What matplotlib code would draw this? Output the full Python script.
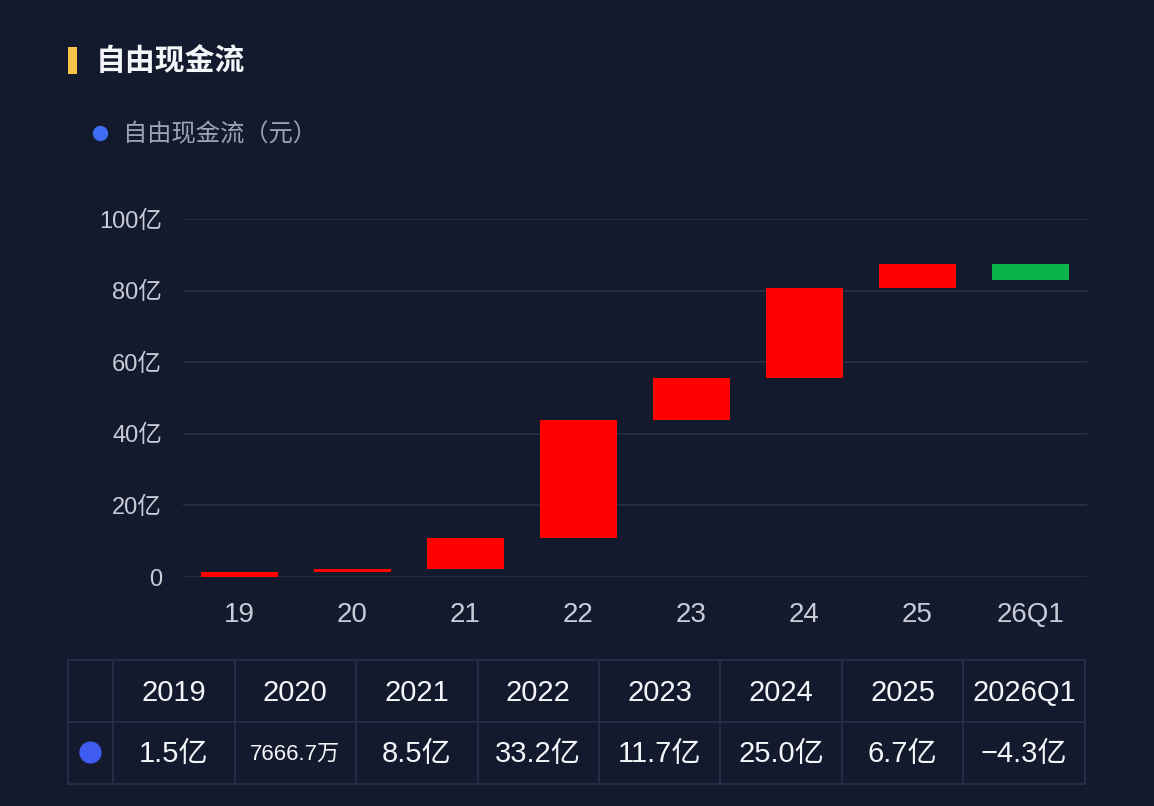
import numpy as np
import matplotlib
matplotlib.use("Agg")
import matplotlib.pyplot as plt
from matplotlib.patches import Rectangle

plt.rcParams['font.family'] = ['Liberation Sans', 'Noto Sans CJK SC', 'DejaVu Sans']
CJK = ['Noto Sans CJK SC', 'DejaVu Sans']

# data (亿元)
categories = ["19", "20", "21", "22", "23", "24", "25", "26Q1"]
years = ["2019", "2020", "2021", "2022", "2023", "2024", "2025", "2026Q1"]
fcf = [1.5, 0.76667, 8.5, 33.2, 11.7, 25.0, 6.7, -4.3]
fcf_labels = ["1.5亿", "7666.7万", "8.5亿", "33.2亿", "11.7亿", "25.0亿", "6.7亿", "−4.3亿"]
yticks = [0, 20, 40, 60, 80, 100]
ytick_labels = ["0", "20亿", "40亿", "60亿", "80亿", "100亿"]

BG = "#131a2e"
GRID = "#232b45"
TXT = "#c9ccd6"
W, H = 1154, 806

fig = plt.figure(figsize=(W / 100, H / 100), dpi=100)
fig.patch.set_facecolor(BG)


def fx(px):
    return px / W


def fy(py):
    return 1 - py / H


# title + legend
fig.patches.append(Rectangle((fx(68), fy(74)), fx(9), 27 / H, transform=fig.transFigure,
                             color="#f7c44a", lw=0))
fig.text(fx(96), fy(61), "自由现金流", color="#f4f5f8", fontsize=21.5, fontweight="bold",
         va="center", ha="left", family=CJK)
fig.add_artist(plt.Line2D([fx(100)], [fy(133)], marker="o", ms=10, color="#3f6ef5", lw=0))
fig.text(fx(123), fy(134), "自由现金流（元）", color="#9ea3b3", fontsize=17.5,
         va="center", ha="left", family=CJK)

# waterfall
ax = fig.add_axes([fx(183), fy(577), fx(904), (577 - 219) / H])
ax.set_facecolor(BG)
vals = np.array(fcf)
ends = np.cumsum(vals)
starts = ends - vals
x = np.arange(len(categories))
colors = ["#ff0000" if v >= 0 else "#0bb24a" for v in vals]
ax.bar(x, ends - starts, bottom=starts, width=0.69, color=colors, zorder=3, clip_on=False)
ax.set_xlim(-0.5, len(categories) - 0.5)
ax.set_ylim(0, 100)
ax.set_yticks(yticks)
ax.set_yticklabels(ytick_labels)
ax.set_xticks(x)
ax.set_xticklabels(categories)
ax.grid(axis="y", color=GRID, lw=1.5)
ax.tick_params(axis="y", length=0, pad=15, labelsize=17, labelcolor=TXT)
ax.tick_params(axis="x", length=0, pad=18, labelsize=20, labelcolor=TXT)
for s in ax.spines.values():
    s.set_visible(False)

# table below
left, first_w, right = 68, 113, 1085
top, mid, bottom = 660, 722, 784
col_w = (right - first_w) / len(years)
LINE = "#242c46"
for py in (top, mid, bottom):
    fig.add_artist(plt.Line2D([fx(left), fx(right)], [fy(py), fy(py)], color=LINE, lw=1.5))
xs = [left, first_w] + [first_w + col_w * (i + 1) for i in range(len(years))]
for px in xs:
    fig.add_artist(plt.Line2D([fx(px), fx(px)], [fy(top), fy(bottom)], color=LINE, lw=1.5))
for i, (yr, lab) in enumerate(zip(years, fcf_labels)):
    cx = first_w + col_w * (i + 0.5)
    fig.text(fx(cx), fy(693), yr, color="#f4f5f8", fontsize=21, ha="center", va="center")
    fs = 16 if len(lab) > 6 else 21
    fig.text(fx(cx), fy(754), lab, color="#f4f5f8", fontsize=fs, ha="center", va="center")
fig.add_artist(plt.Line2D([fx(90)], [fy(752)], marker="o", ms=15, color="#3f5cf0", lw=0))

fig.savefig("out.png", dpi=100, facecolor=BG)
